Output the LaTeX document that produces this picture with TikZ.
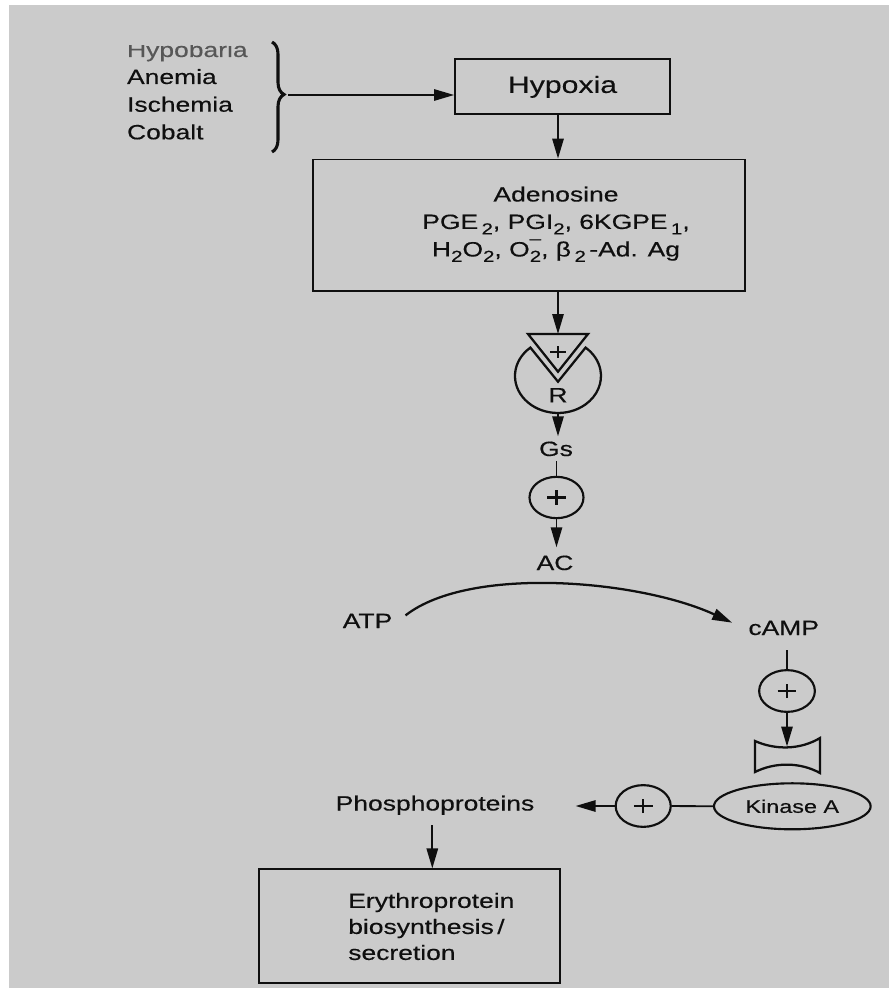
\documentclass[tikz,border=0pt]{standalone}
\usepackage{fontspec}
\setmainfont{Liberation Sans}[FakeStretch=1.28,FakeBold=0.35]
\usetikzlibrary{shapes.geometric,arrows.meta,decorations.pathreplacing}
\definecolor{bg}{RGB}{203,203,203}
\definecolor{ink}{RGB}{15,15,15}
\newcommand\sbs[1]{\raisebox{-0.5ex}{\fontsize{12}{12}\selectfont #1}}
\newcommand\sps[1]{\llap{\raisebox{1.15ex}{\fontsize{12}{12}\selectfont #1}}}
\begin{document}
\begin{tikzpicture}[x=0.75pt,y=-0.75pt,
  txt/.style={inner sep=0pt, text=ink, font=\fontsize{15.5}{18.6}\selectfont},
  box/.style={draw=ink, line width=1.35pt, inner sep=0pt, text=ink},
  arr/.style={draw=ink, line width=1.4pt, -{Triangle[length=15pt,width=8.5pt]}},
  ln/.style={draw=ink, line width=1.4pt},
  ring/.style={ellipse, draw=ink, line width=1.6pt, inner sep=0pt, text=ink},
  recep/.style={draw=ink, line width=1.7pt},
  pluss/.style={draw=ink, line width=1.7pt}]
\useasboundingbox (0,0) rectangle (889,988);
\fill[white] (0,0) rectangle (889,988);
\fill[bg] (8.7,4.7) rectangle (889,988);

% causes
\begin{scope}
\clip (100,46) rectangle (260,75);
\node[txt, anchor=base west, text=ink!70] (l1) at (126.8,57) {Hypobaria};
\end{scope}
\node[txt, anchor=base west] (l2) at (126.8,84) {Anemia};
\node[txt, anchor=base west] (l3) at (126.8,111.7) {Ischemia};
\node[txt, anchor=base west] (l4) at (126.8,139.3) {Cobalt};
\draw[ink, line width=2.3pt, decorate, decoration={brace, amplitude=9pt, aspect=0.477}] (272,42) -- (272,152);
\coordinate (btip) at (288,95);

% hypoxia
\node[box, minimum width=161.25pt, minimum height=41.25pt, font=\fontsize{17.7}{20}\selectfont] (hyp) at (562.5,86.8) {Hypoxia};
\draw[arr] (btip) -- (btip -| hyp.west);

% mediators
\coordinate (colA) at (558,0);
\node[box, minimum width=324pt, minimum height=98.6pt] (adbox) at (529,225.25) {};
\node[txt, align=center, font=\fontsize{15.5}{20.6}\selectfont] (adtext) at (556,224.2)
  {Adenosine\\PGE\,\sbs{2}, PGI\sbs{2}, 6KGPE\,\sbs{1},\\H\sbs{2}O\sbs{2}, O\sbs{2}\sps{--}, β\,\sbs{2}\,-Ad. Ag};
\draw[arr] (hyp.south -| colA) -- (adbox.north -| colA);

% receptor
\coordinate (rtop) at (558,334);
\draw[arr] (adbox.south -| colA) -- (rtop);
\draw[recep] (528,334) -- (588,334) -- (558,371.7) -- cycle;
\draw[recep] (558,381.7) -- (530.4,347.6) arc[start angle=230.1, end angle=-50.1, x radius=43, y radius=37] -- cycle;
\coordinate (tp) at (558,351.7);
\draw[pluss] (tp) +(-5.9pt,0) -- +(5.9pt,0) +(0,-4.4pt) -- +(0,4.4pt);
\node[txt, anchor=base] (r) at (558,402.3) {R};
\coordinate (rbot) at (558,413);

% Gs
\node[txt, anchor=base, inner ysep=3.75pt] (gs) at (556,456) {Gs};
\draw[arr] (rbot) -- (rbot |- gs.north);
\node[ring, minimum width=40.5pt, minimum height=31pt] (gsp) at (556.5,497.5) {};
\draw[pluss] (gsp.center) +(-7pt,0) -- +(7pt,0) +(0,-5.4pt) -- +(0,5.4pt);
\draw[ln] (gs.south -| gsp) -- (gsp.north);
\node[txt, anchor=base, inner ysep=6pt] (ac) at (555,570) {AC};
\draw[arr] (gsp.south) -- (gsp.south |- ac.north);

% ATP -> cAMP
\node[txt, anchor=base] (atp) at (367.5,628) {ATP};
\node[txt, anchor=base] (camp) at (783.7,635) {cAMP};
\draw[arr, line width=1.7pt] ([shift={(13,-5.5)}]atp.east) .. controls (470,565) and (640,580) .. ([shift={(-16,-5.3)}]camp.west);

% cAMP -> kinase
\node[ring, minimum width=41.8pt, minimum height=31.3pt] (cp) at (787,691) {};
\draw[pluss] (cp.center) +(-7pt,0) -- +(7pt,0) +(0,-5.4pt) -- +(0,5.4pt);
\draw[ln] (camp.south -| cp) ++(0,15) -- (cp.north);
\draw[recep] (755,741) -- (755,772) .. controls (775,762) and (800,762) .. (820,773) -- (820,738) .. controls (800,750) and (775,750) .. cycle;
\coordinate (hg) at (787,746.5);
\draw[arr] (cp.south) -- (hg);

\node[ring, minimum width=117.5pt, minimum height=34.5pt, font=\fontsize{13.7}{16}\selectfont] (kin) at (792.3,806.3) {Kinase A};
\node[ring, minimum width=41.3pt, minimum height=31.3pt] (kp) at (643.2,806) {};
\draw[pluss] (kp.center) +(-7pt,0) -- +(7pt,0) +(0,-5.4pt) -- +(0,5.4pt);
\draw[ln] (kin.west) -- (kp.east);
\coordinate (ptip) at (575.6,806);
\draw[arr] (kp.west) -- (ptip);

% phosphoproteins -> output
\node[txt, anchor=base] (phos) at (435,810.5) {Phosphoproteins};
\node[box, minimum width=225.5pt, minimum height=85pt] (ery) at (409.65,926) {};
\node[txt, align=left, anchor=west, font=\fontsize{15.5}{19.5}\selectfont] (erytext) at (348,926.5) {Erythroprotein\\biosynthesis\,/\\secretion};
\coordinate (pcol) at (432.3,0);
\draw[arr] (phos.south -| pcol) ++(0,10) -- (ery.north -| pcol);
\end{tikzpicture}
\end{document}
